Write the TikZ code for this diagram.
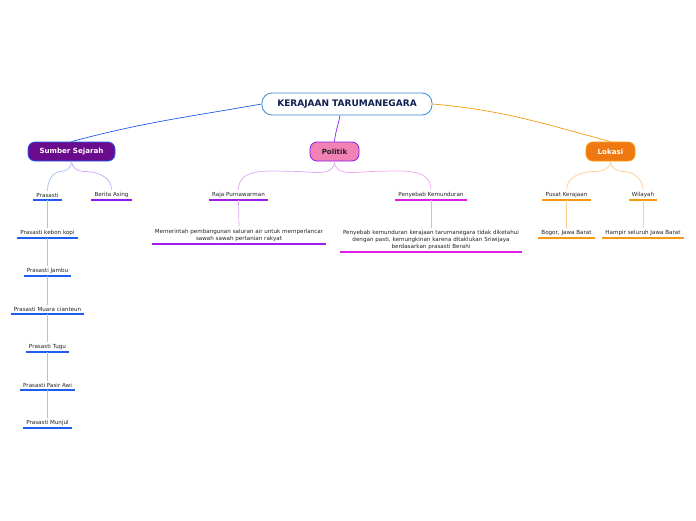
\documentclass[tikz,border=0pt]{standalone}
\usepackage{fontspec}
\setmainfont{DejaVu Sans}
\definecolor{cblue}{HTML}{1F5CF0}
\definecolor{lblue}{HTML}{A8C0F4}
\definecolor{cpurp}{HTML}{8A1CF0}
\definecolor{lpurp}{HTML}{C9A2F8}
\definecolor{cviol}{HTML}{A21CE8}
\definecolor{lviol}{HTML}{DDA8F6}
\definecolor{cmag}{HTML}{E01EE8}
\definecolor{lmag}{HTML}{F2A6F4}
\definecolor{corg}{HTML}{F59A10}
\definecolor{lorg}{HTML}{F9CE90}
\definecolor{sumfill}{HTML}{6A0A8C}
\definecolor{polfill}{HTML}{F282B4}
\definecolor{lokfill}{HTML}{F07810}
\definecolor{rootbd}{HTML}{3A8CD6}
\definecolor{navy}{HTML}{102050}
\definecolor{txt}{HTML}{222222}
\tikzset{
  rootbox/.style={draw=rootbd, line width=0.8pt, fill=white, rounded corners=10pt, minimum width=170pt, minimum height=22pt, font=\bfseries\fontsize{9}{10}\selectfont, text=navy},
  mainbox/.style={line width=0.8pt, rounded corners=7pt, minimum height=19pt, inner xsep=2pt, font=\bfseries\fontsize{7.1}{8}\selectfont},
  leaf/.style={inner xsep=3pt, inner ysep=2.3pt, font=\fontsize{5.6}{7}\selectfont, text=txt, align=center, anchor=south},
  ul/.style={line width=2pt, draw=#1},
  conn/.style={line width=0.7pt, draw=#1},
}
\newcommand{\uline}[2]{\draw[ul=#2] (#1.south west) -- (#1.south east);}
\begin{document}
\begin{tikzpicture}[x=1pt,y=-1pt]
\useasboundingbox (0,0) rectangle (696,520);
% main nodes
\node[rootbox] (root) at (347,104) {KERAJAAN TARUMANEGARA};
\node[mainbox, draw=cblue, fill=sumfill, text=white, minimum width=87pt] (sum) at (71.5,151.5) {Sumber Sejarah};
\node[mainbox, draw=cpurp, fill=polfill, text=txt, minimum width=49pt] (pol) at (334.5,151.5) {Politik};
\node[mainbox, draw=corg, fill=lokfill, text=white, minimum width=49pt] (lok) at (610.5,151.5) {Lokasi};
% level 2
\node[leaf] (pras) at (47.5,200) {Prasasti};
\node[leaf] (ber) at (111.5,200) {Berita Asing};
\node[leaf] (raja) at (238.5,200) {Raja Purnawarman};
\node[leaf] (peny) at (431,200) {Penyebab Kemunduran};
\node[leaf] (pusat) at (566.5,200) {Pusat Kerajaan};
\node[leaf] (wil) at (643,200) {Wilayah};
% level 3
\node[leaf] (mem) at (239,244) {Memerintah pembangunan saluran air untuk memperlancar\\sawah sawah pertanian rakyat};
\node[leaf] (pk) at (431,252) {Penyebab kemunduran kerajaan tarumanegara tidak diketahui\\dengan pasti, kemungkinan karena ditaklukan Sriwijaya\\berdasarkan prasasti Berahi};
\node[leaf] (bog) at (566.5,238) {Bogor, Jawa Barat};
\node[leaf] (ham) at (643,238) {Hampir seluruh Jawa Barat};
% prasasti chain
\node[leaf] (p1) at (47.5,238) {Prasasti kebon kopi};
\node[leaf] (p2) at (47.5,276) {Prasasti Jambu};
\node[leaf] (p3) at (47.5,314) {Prasasti Muara cianteun};
\node[leaf] (p4) at (47.5,352) {Prasasti Tugu};
\node[leaf] (p5) at (47.5,390) {Prasasti Pasir Awi};
\node[leaf] (p6) at (47.5,428) {Prasasti Munjul};
% underlines
\uline{pras}{cblue}
\uline{ber}{cpurp}
\uline{raja}{cviol}
\uline{peny}{cmag}
\uline{pusat}{corg}
\uline{wil}{corg}
\uline{mem}{cviol}
\uline{pk}{cmag}
\uline{bog}{corg}
\uline{ham}{corg}
\uline{p1}{cblue}
\uline{p2}{cblue}
\uline{p3}{cblue}
\uline{p4}{cblue}
\uline{p5}{cblue}
\uline{p6}{cblue}
% root connectors
\draw[conn=cblue] (root.west) to[out=190,in=15] (sum.north);
\coordinate (rs) at ([xshift=-7pt]root.south);
\draw[conn=cpurp] (rs) to[out=260,in=85] (pol.north);
\draw[conn=corg] (root.east) to[out=-5,in=165] (lok.north);
% level-2 connectors
\draw[conn=lblue] (sum.south) to[out=-90,in=0] ++(-10,10) to[out=180,in=90] (pras.north);
\draw[conn=lpurp] (sum.south) to[out=-90,in=180] ++(12,10) to[out=0,in=90] (ber.north);
\draw[conn=lviol] (pol.south) to[out=-90,in=0] ++(-40,10) to[out=180,in=90] (raja.north);
\draw[conn=lmag] (pol.south) to[out=-90,in=180] ++(40,10) to[out=0,in=90] (peny.north);
\draw[conn=lorg] (lok.south) to[out=-90,in=0] ++(-14,10) to[out=180,in=90] (pusat.north);
\draw[conn=lorg] (lok.south) to[out=-90,in=180] ++(12,10) to[out=0,in=90] (wil.north);
% level-3 connectors
\draw[conn=lviol] (raja.south) -- (mem.north);
\draw[conn=lmag] (peny.south) -- (pk.north);
\draw[conn=lorg] (pusat.south) -- (bog.north);
\draw[conn=lorg] (wil.south) -- (ham.north);
\draw[conn=lblue] (pras.south) -- (p1.north);
\draw[conn=lblue] (p1.south) -- (p2.north);
\draw[conn=lblue] (p2.south) -- (p3.north);
\draw[conn=lblue] (p3.south) -- (p4.north);
\draw[conn=lblue] (p4.south) -- (p5.north);
\draw[conn=lblue] (p5.south) -- (p6.north);
\end{tikzpicture}
\end{document}
